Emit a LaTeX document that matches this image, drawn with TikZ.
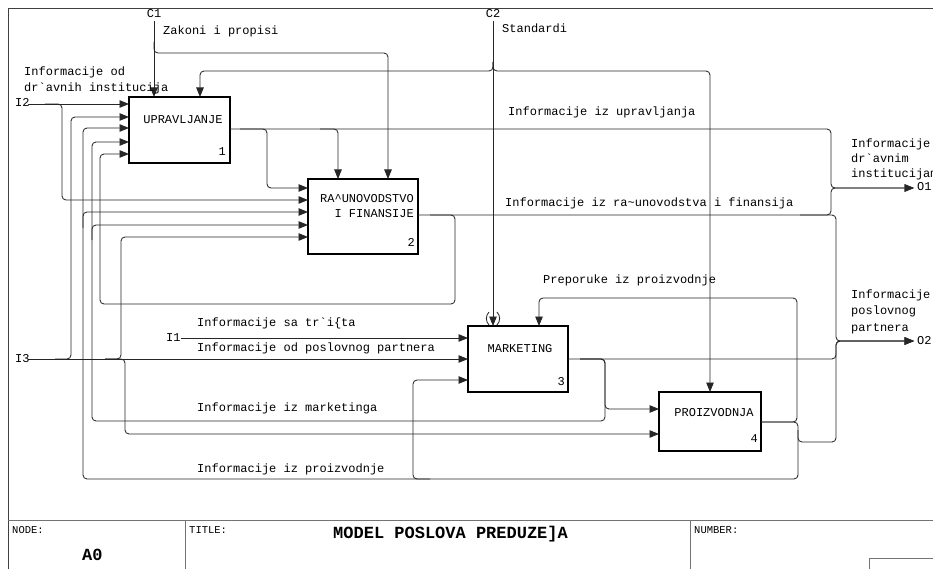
\documentclass[tikz,border=0pt]{standalone}
\usepackage{fontspec}
\newfontfamily\mono{Liberation Mono}
\usetikzlibrary{arrows.meta}

\begin{document}
\begin{tikzpicture}[x=1pt,y=-1pt,
  flow/.style={draw=black!85, line width=0.85pt, rounded corners=4pt},
  arr/.style={flow, -{Triangle[length=9.5pt,width=7.5pt]}},
  fnbox/.style={draw=black, line width=1.4pt, inner sep=0pt, outer sep=0pt},
  lbl/.style={font=\mono\fontsize{12}{14}\selectfont, inner sep=0pt, anchor=base west},
  boxtxt/.style={font=\mono\fontsize{12}{14}\selectfont, inner sep=0pt, anchor=base},
  boxnum/.style={font=\mono\fontsize{12}{14}\selectfont, inner sep=0pt, anchor=base east},
  small/.style={font=\mono\fontsize{10.5}{12}\selectfont, inner sep=0pt, anchor=base west},
  big/.style={font=\mono\bfseries\fontsize{17}{19}\selectfont, inner sep=0pt, anchor=base west},
  frame/.style={draw=black!75, line width=0.8pt},
  tblock/.style={draw=black!55, line width=0.8pt}
]
\useasboundingbox (0,0) rectangle (933,569);
\clip (0,0) rectangle (933,569);

% sheet frame and title block
\draw[frame] (8,575) -- (8,8) -- (940,8);
\draw[tblock] (8,520) -- (940,520);
\draw[tblock] (185,520) -- (185,575);
\draw[tblock] (690,520) -- (690,575);
\draw[tblock] (869,558) rectangle (940,575);
\node[small] (nodelbl) at (12,533) {NODE:};
\node[small] (titlelbl) at (189,533) {TITLE:};
\node[small] (numlbl) at (694,533) {NUMBER:};
\node[big] (nodeid) at (82,560) {A0};
\node[big] (title) at (333,538) {MODEL POSLOVA PREDUZE]A};

% activity boxes
\node[fnbox, minimum width=101pt, minimum height=66pt] (b1) at (179.5,130) {};
\node[fnbox, minimum width=110pt, minimum height=75pt] (b2) at (363,216.5) {};
\node[fnbox, minimum width=100pt, minimum height=66pt] (b3) at (518,359) {};
\node[fnbox, minimum width=102pt, minimum height=59pt] (b4) at (710,421.5) {};

\node[boxtxt] (b1t) at (183,124) {UPRAVLJANJE};
\node[boxnum] (b1n) at (226,156) {1};
\node[boxnum] (b2t) at (414,203) {RA\textasciicircum UNOVODSTVO};
\node[boxnum] (b2u) at (414,218) {I FINANSIJE};
\node[boxnum] (b2n) at (415,247) {2};
\node[boxtxt] (b3t) at (520,352) {MARKETING};
\node[boxnum] (b3n) at (565,385) {3};
\node[boxtxt] (b4t) at (714,416) {PROIZVODNJA};
\node[boxnum] (b4n) at (758,442) {4};

% boundary points
\coordinate (c1) at (154,21);
\coordinate (c2) at (493,21);
\coordinate (i1) at (181,338);
\coordinate (i2) at (28,104);
\coordinate (i3) at (28,359);
\coordinate (o1) at (914,188);
\coordinate (o2) at (914,341);

% controls C1
\draw[arr] (c1) -- (c1 |- b1.north);
\draw[arr] (154,42) -- (154,53) -- (388,53) -- (388,0 |- b2.north);

% controls C2
\draw[arr] (c2) -- (c2 |- b3.north);
\draw[arr] (493,62) -- (493,71) -- (200,71) -- (200,0 |- b1.north);
\draw[arr] (493,62) -- (493,71) -- (710,71) -- (710,0 |- b4.north);
\draw[flow, rounded corners=0] (489,312) .. controls (485.5,315.5) and (485.5,321.5) .. (489,325);
\draw[flow, rounded corners=0] (497,312) .. controls (500.5,315.5) and (500.5,321.5) .. (497,325);

% inputs I2, I3, I1
\draw[arr] (i2) -- (i2 -| b1.west);
\draw[arr] (45,104) -- (62,104) -- (62,200) -- (0,200 -| b2.west);
\draw[arr] (i3) -- (i3 -| b3.west);
\draw[arr] (55,359) -- (71,359) -- (71,117) -- (0,117 -| b1.west);
\draw[arr] (105,359) -- (121,359) -- (121,237) -- (0,237 -| b2.west);
\draw[arr] (105,359) -- (125,359) -- (125,434) -- (0,434 -| b4.west);
\draw[arr] (i1) -- (i1 -| b3.west);

% outputs of UPRAVLJANJE
\draw[arr] (b1.east |- 0,129) -- (831,129) -- (831,188) -- (o1);
\draw[arr] (240,129) -- (267,129) -- (267,188) -- (0,188 -| b2.west);
\draw[arr] (320,129) -- (338,129) -- (338,0 |- b2.north);

% outputs of RACUNOVODSTVO I FINANSIJE
\draw[arr] (b2.east |- 0,215) -- (831,215) -- (831,188) -- (o1);
\draw[arr] (800,215) -- (836,215) -- (836,341) -- (o2);
\draw[arr] (430,215) -- (455,215) -- (455,304) -- (100,304) -- (100,154) -- (0,154 -| b1.west);

% outputs of MARKETING
\draw[arr] (b3.east |- 0,359) -- (836,359) -- (836,341) -- (o2);
\draw[arr] (580,359) -- (605,359) -- (605,409) -- (0,409 -| b4.west);
\draw[arr] (580,359) -- (605,359) -- (605,421) -- (92,421) -- (92,142) -- (0,142 -| b1.west);
\draw[arr] (92,240) -- (92,225) -- (0,225 -| b2.west);

% outputs of PROIZVODNJA
\draw[arr] (b4.east |- 0,422) -- (797,422) -- (797,298) -- (539,298) -- (539,0 |- b3.north);
\draw[arr] (b4.east |- 0,422) -- (798,422) -- (798,479) -- (83,479) -- (83,128) -- (0,128 -| b1.west);
\draw[arr] (83,228) -- (83,212) -- (0,212 -| b2.west);
\draw[arr] (430,479) -- (413,479) -- (413,380) -- (0,380 -| b3.west);
\draw[arr] (798,430) -- (798,442) -- (836,442) -- (836,341) -- (o2);

% boundary labels
\node[boxtxt] (c1l) at (154,18) {C1};
\node[boxtxt] (c2l) at (493,18) {C2};
\node[lbl] (i1l) at (166,341) {I1};
\node[lbl] (i2l) at (15,107) {I2};
\node[lbl] (i3l) at (15,362) {I3};
\node[lbl] (o1l) at (917,191) {O1};
\node[lbl] (o2l) at (917,344) {O2};

% arrow labels
\node[lbl] (t1) at (163,35) {Zakoni i propisi};
\node[lbl] (t2) at (502,33) {Standardi};
\node[lbl] (t3) at (24,76) {Informacije od};
\node[lbl] (t4) at (24,92) {dr\textasciigrave avnih institucija};
\node[lbl] (t5) at (508,116) {Informacije iz upravljanja};
\node[lbl] (t6) at (505,207) {Informacije iz ra\textasciitilde unovodstva i finansija};
\node[lbl] (t7) at (543,283) {Preporuke iz proizvodnje};
\node[lbl] (t8) at (197,326) {Informacije sa tr\textasciigrave i\{ta};
\node[lbl] (t9) at (197,351) {Informacije od poslovnog partnera};
\node[lbl] (t10) at (197,411) {Informacije iz marketinga};
\node[lbl] (t11) at (197,472) {Informacije iz proizvodnje};
\node[lbl] (t12) at (851,148) {Informacije};
\node[lbl] (t13) at (851,163) {dr\textasciigrave avnim};
\node[lbl] (t14) at (851,178) {institucijama};
\node[lbl] (t15) at (851,298) {Informacije};
\node[lbl] (t16) at (851,314) {poslovnog};
\node[lbl] (t17) at (851,331) {partnera};
\end{tikzpicture}
\end{document}
